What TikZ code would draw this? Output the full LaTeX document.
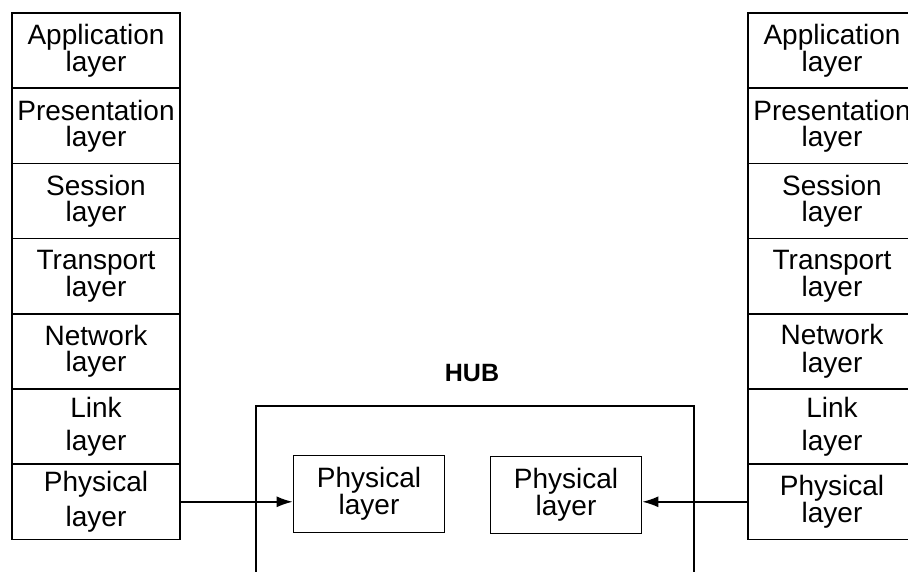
\documentclass[tikz,border=0pt]{standalone}
\usepackage{fontspec}
\setmainfont{Liberation Sans}
\usetikzlibrary{positioning,arrows.meta}

\begin{document}
\begin{tikzpicture}[
  x=1pt, y=-1pt,
  node distance=0pt,
  lay/.style={draw, line width=1.7pt, outer sep=0pt, inner sep=0pt, align=center, font=\fontsize{28}{26}\selectfont, minimum width=168pt, minimum height=75.2pt},
  phy/.style={draw, line width=1.7pt, inner sep=0pt, align=center, font=\fontsize{28}{26}\selectfont, minimum width=151pt, minimum height=77pt},
  hd/.style={font=\fontsize{25}{25}\selectfont\bfseries},
  arr/.style={-{Latex[length=16pt,width=11pt]}, line width=1.5pt}
]
\useasboundingbox (0,0) rectangle (908,572);
% left end system
\node[lay] (a1) at (96,50.6) {Application\\layer};
\node[lay, below=of a1] (b1) {Presentation\\layer};
\node[lay, below=of b1] (c1) {Session\\layer};
\node[lay, below=of c1] (d1) {Transport\\layer};
\node[lay, below=of d1] (e1) {Network\\layer};
\node[lay, below=of e1] (f1) {Link\\[7pt]layer};
\node[lay, below=of f1] (g1) {Physical\\[7pt]layer};

% right end system
\node[lay] (a2) at (832,50.6) {Application\\layer};
\node[lay, below=of a2] (b2) {Presentation\\layer};
\node[lay, below=of b2] (c2) {Session\\layer};
\node[lay, below=of c2] (d2) {Transport\\layer};
\node[lay, below=of d2] (e2) {Network\\[2pt]layer};
\node[lay, below=of e2] (f2) {Link\\[7pt]layer};
\node[lay, below=of f2] (g2) {Physical\\layer};

% hub
\node[draw, line width=1.7pt, minimum width=438pt, minimum height=220pt, anchor=north] (hub) at (475,405) {};
\node[hd] (hublbl) at (472,373) {HUB};
\node[phy] (p1) at (369,494) {Physical\\layer};
\node[phy] (p2) at (566,495) {Physical\\layer};

\draw[arr] (g1.east) -- (g1.east -| p1.west);
\draw[arr] (g2.west) -- (g2.west -| p2.east);
\end{tikzpicture}
\end{document}
